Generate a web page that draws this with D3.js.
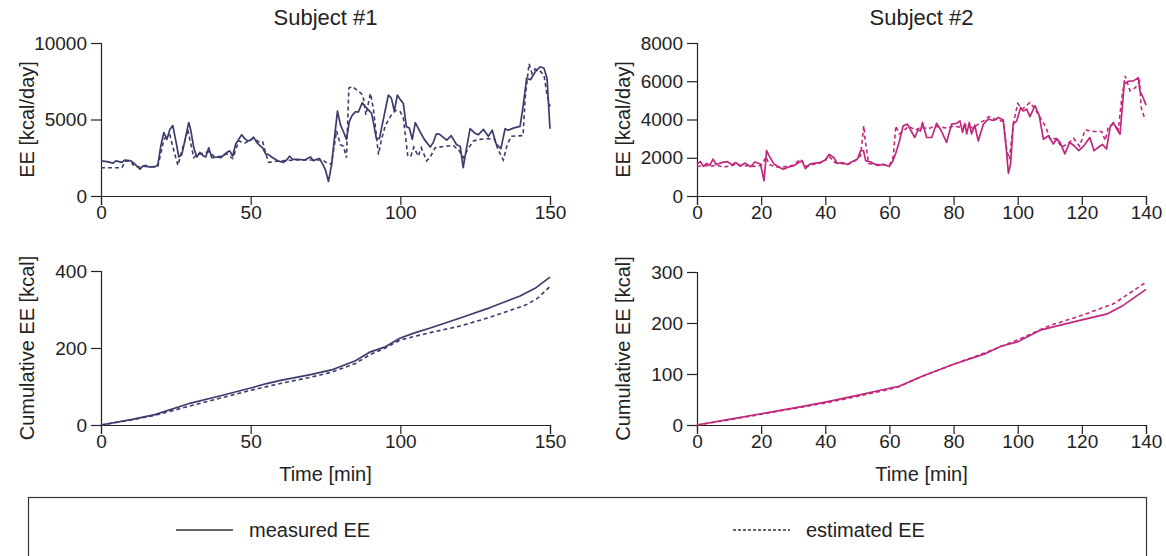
<!DOCTYPE html>
<html>
<head>
<meta charset="utf-8">
<script src="https://cdn.jsdelivr.net/npm/d3@7"></script>
<style>
  html, body { margin: 0; padding: 0; background: #fff; }
  svg { display: block; font-family: "Liberation Sans", Arial, Helvetica, sans-serif; }
</style>
</head>
<body>
<svg id="chart" width="1166" height="556"></svg>
<script>
// Energy expenditure, minute by minute: [time in min, kcal/day]
const s1Measured = [[0,2300],[2,2250],[4,2150],[5,2300],[7,2200],[8,2350],[10,2300],[11,2150],[13,1750],[14,1950],[15,2000],[16,1900],[18,1900],[19,2050],[20,3300],[21,4150],[22,3700],[23,4350],[24,4600],[25,3600],[26,2550],[27,2700],[28,3600],[29.3,4800],[30,4300],[31,3150],[32,2550],[33,2850],[34,2650],[35,2550],[36,3150],[37,2500],[39,2550],[40,2500],[42,2850],[43,2950],[44,2600],[45,3400],[46,3700],[47,4000],[48,3750],[49,3600],[50,3650],[51,3850],[52,3500],[53,3300],[54,3150],[55,2750],[56,2700],[57,2550],[59,2300],[60,2250],[61,2200],[62,2350],[63,2600],[64,2400],[66,2400],[68,2350],[69,2450],[70,2550],[71,2300],[72,2400],[73,2450],[74,2100],[75,1700],[76,950],[77,2000],[78,3800],[79,5550],[80,4650],[81,4200],[82,3700],[83,4900],[84,5300],[85,5500],[86,5500],[87.3,6100],[88,5900],[89,5700],[90.4,5400],[91,4800],[92,3750],[93,3750],[94,4700],[96,6600],[97,6400],[98,5550],[99,6600],[100,6300],[101,6050],[102,4550],[103,4450],[104,3700],[105,4800],[107,4050],[108,3700],[109.4,3350],[110,3200],[111,3500],[112,4050],[113,4050],[115.5,3650],[117,3950],[118.8,3350],[120,3250],[121,1850],[122,3000],[123.3,4400],[125,4100],[126,4000],[127.8,4350],[129.4,3900],[130.7,4300],[132,3400],[133.6,3100],[135,4400],[136,4300],[138,4450],[140,4550],[141,5850],[142.2,7700],[143.5,7600],[145,8100],[146.7,8450],[148,8350],[149,7700],[150,4400]];
const s1Estimated = [[0,1850],[3,1850],[7,1850],[8,2250],[9,2300],[10,2250],[11,1950],[13,1900],[14,1950],[16,1900],[19,1950],[20,2800],[21,3700],[22,3900],[23,4000],[24,3200],[25,2500],[25.7,2000],[27,2950],[28,3600],[29,4350],[30,3400],[31,2500],[32,2700],[34,2800],[36,2900],[38,2550],[40,2600],[42,2750],[44,2450],[45,3000],[46,3600],[48,3450],[51,3800],[53,3500],[54,3550],[55,2800],[56,2200],[60,2300],[65,2350],[70,2350],[74,2350],[76,2100],[77,2100],[78.7,4250],[80,3350],[81,3250],[82,2500],[82.8,7050],[84,7150],[86,6850],[87.5,6600],[88.5,5300],[90,6700],[91,5700],[92.7,2700],[93.7,3700],[95,4600],[97,5300],[98.5,5600],[100,5500],[101,5100],[102.5,2600],[103.5,2600],[104.5,3200],[106,2600],[107,3150],[108.8,2300],[110,2550],[111.6,3150],[115,3250],[117.7,3300],[119.5,3000],[121,2500],[122.5,3050],[124.4,3600],[126.5,3700],[129.4,3750],[131.5,3700],[132.5,3100],[134.4,2350],[135.7,3350],[137,3900],[141,3950],[141.7,6400],[143,8650],[144,8000],[145,8300],[146.5,8200],[148,7900],[149,6600],[150,5850]];
const s2Measured = [[0,1670],[1,1800],[2,1550],[3,1700],[4,1600],[5,1930],[6,1650],[8,1760],[9.5,1800],[11,1620],[12,1750],[13.6,1580],[15,1720],[16.7,1530],[18,1780],[19.8,1670],[20.9,800],[21.7,2370],[22.5,2100],[24,1670],[25.5,1520],[26.9,1400],[28.6,1520],[30.2,1580],[31.7,1750],[32.8,1830],[33.8,1430],[35.3,1680],[37,1720],[38.5,1760],[40,1880],[41.2,2180],[42.7,2000],[43.7,1700],[45.3,1750],[46.9,1650],[48.4,1800],[50,1920],[51,2360],[51.9,2380],[52.6,1850],[54.2,1780],[56.2,1600],[58.3,1650],[59.9,1540],[61,1800],[62,2250],[63,2800],[64.3,3670],[65.6,3760],[66.6,3450],[67.9,3060],[68.9,3450],[69.7,3400],[70.3,3850],[71.6,3060],[73.2,3060],[74.7,3800],[76.2,3400],[77.8,2800],[79.4,3760],[80.9,3800],[82,3930],[82.8,3330],[83.5,3800],[84.1,3250],[84.9,3850],[85.6,3250],[86.6,3700],[87.7,2880],[89.3,3760],[90.8,4020],[92.4,3950],[94,4110],[95.5,3970],[96.4,2540],[97.1,1180],[97.8,1700],[98.6,3760],[99.7,3930],[100.9,4630],[101.7,4450],[102.8,4540],[103.8,4150],[105.4,4720],[106.7,4200],[108,2970],[109.6,3150],[111.1,2720],[112.2,3000],[113.2,2800],[114.7,2200],[116.2,2800],[117.6,2630],[119,2370],[120.5,2600],[122.5,3060],[123.8,2370],[125.6,2600],[126.4,2700],[127.7,2460],[128.8,3590],[129.8,3850],[130.9,3500],[131.9,3230],[133.2,5850],[134.5,6000],[136.1,6020],[137.6,6190],[138.1,5500],[139.1,5150],[140,4750]];
const s2Estimated = [[0,1530],[2,1600],[4,1550],[6,1620],[8,1520],[10,1550],[12,1650],[14,1550],[16,1600],[18,1550],[20,1600],[20.6,1750],[21.5,2050],[22.5,1650],[24,1550],[26,1500],[28,1550],[30,1600],[32.3,1930],[34,1550],[36,1650],[38,1700],[40,1850],[41,2100],[43,1750],[45,1700],[47,1650],[49,1800],[51,2100],[52,3670],[52.5,2850],[53,2300],[53.5,1700],[56,1650],[58,1650],[60,1600],[61.2,2050],[62,3670],[63,3250],[64,3350],[66,3650],[68,3450],[70,3600],[72,3500],[74,3650],[76,3600],[78,3550],[80,3650],[82,3600],[84,3700],[86,3550],[88,3800],[89.5,3950],[91,4150],[93,4000],[95.5,3900],[96.6,2370],[97.4,1920],[98.6,3760],[100,4840],[101.5,4550],[103.8,4890],[105.4,4550],[107,4100],[108.8,3600],[110,3000],[112,3000],[113.7,2550],[115.8,2750],[117.4,3020],[119.3,2600],[121,3450],[123.6,3380],[126.2,3370],[127.3,2900],[128.3,3650],[129.8,3750],[131.4,3500],[132.4,5060],[133.5,6280],[135,5500],[136.6,5650],[138,6000],[138.5,4630],[139.3,4200],[140,4000]];

// Cumulative energy expenditure: [time in min, kcal]
const s1CumMeasured = [[0,0],[10,14],[18,27],[30,57],[40,76],[50,96],[55,107],[60,116],[70,131],[77,143],[85,167],[90,190],[95,203],[100,226],[105,240],[110,252],[120,278],[130,305],[140,335],[145,355],[150,384]];
const s1CumEstimated = [[0,0],[10,13],[18,25],[30,50],[40,70],[50,90],[60,108],[70,124],[77,137],[85,160],[90,183],[95,200],[100,221],[110,240],[120,257],[130,280],[142,312],[146,330],[150,360]];
const s2CumMeasured = [[0,0],[10,11],[20,22],[30,33],[40,45],[50,58],[60,72],[63,76],[70,95],[80,119],[90,140],[95,155],[100,163],[107,186],[120,206],[128,218],[133,235],[140,266]];
const s2CumEstimated = [[0,0],[10,10],[20,21],[30,32],[40,43],[50,56],[60,70],[63,75],[70,95],[80,119],[90,142],[100,167],[110,195],[120,215],[130,238],[140,280]];

// Axis ticks
const s1TimeTicks = [0, 50, 100, 150];
const s2TimeTicks = [0, 20, 40, 60, 80, 100, 120, 140];
const s1EETicks = [0, 5000, 10000];
const s2EETicks = [0, 2000, 4000, 6000, 8000];
const s1CumTicks = [0, 200, 400];
const s2CumTicks = [0, 100, 200, 300];

const titles = ["Subject #1", "Subject #2"];
const legendLabels = ["measured EE", "estimated EE"];
const colors = ["#3c3c6c", "#c0287c"];

const svg = d3.select("#chart");
const FONT_TICK = 19, FONT_LAB = 20;

const panels = [
  { x0: 101, x1: 550, y0: 196, y1: 43, xMax: 150, yMax: 10000, xt: s1TimeTicks, yt: s1EETicks,
    m: s1Measured, e: s1Estimated, col: colors[0], ylab: "EE [kcal/day]", xlab: null },
  { x0: 697, x1: 1146, y0: 196, y1: 43, xMax: 140, yMax: 8000, xt: s2TimeTicks, yt: s2EETicks,
    m: s2Measured, e: s2Estimated, col: colors[1], ylab: "EE [kcal/day]", xlab: null },
  { x0: 101, x1: 550, y0: 425, y1: 271, xMax: 150, yMax: 400, xt: s1TimeTicks, yt: s1CumTicks,
    m: s1CumMeasured, e: s1CumEstimated, col: colors[0], ylab: "Cumulative EE [kcal]", xlab: "Time [min]" },
  { x0: 697, x1: 1146, y0: 425, y1: 272, xMax: 140, yMax: 300, xt: s2TimeTicks, yt: s2CumTicks,
    m: s2CumMeasured, e: s2CumEstimated, col: colors[1], ylab: "Cumulative EE [kcal]", xlab: "Time [min]" }
];

panels.forEach(p => {
  const x = d3.scaleLinear().domain([0, p.xMax]).range([p.x0, p.x1]);
  const y = d3.scaleLinear().domain([0, p.yMax]).range([p.y0, p.y1]);
  const g = svg.append("g");

  const xAxis = g.append("g").attr("transform", `translate(0,${p.y0})`)
    .call(d3.axisBottom(x).tickValues(p.xt).tickFormat(d3.format("d")).tickSizeOuter(0).tickSize(9).tickPadding(1));
  const yAxis = g.append("g").attr("transform", `translate(${p.x0},0)`)
    .call(d3.axisLeft(y).tickValues(p.yt).tickFormat(d3.format("d")).tickSizeOuter(0).tickSize(10).tickPadding(4));
  [xAxis, yAxis].forEach(a => {
    a.selectAll("path, line").attr("stroke", "#222").attr("stroke-width", 1.2);
    a.selectAll("text").attr("fill", "#222").style("font-size", FONT_TICK + "px")
      .style("font-family", '"Liberation Sans", Arial, sans-serif');
  });

  const line = d3.line().x(d => x(d[0])).y(d => y(d[1]));
  g.append("path").datum(p.e).attr("d", line).attr("fill", "none")
    .attr("stroke", p.col).attr("stroke-width", 1.6).attr("stroke-dasharray", "4,3");
  g.append("path").datum(p.m).attr("d", line).attr("fill", "none")
    .attr("stroke", p.col).attr("stroke-width", 1.7).attr("stroke-linejoin", "round");

  g.append("text")
    .attr("transform", `translate(${p.x0 - 74},${(p.y0 + p.y1) / 2}) rotate(-90)`)
    .attr("text-anchor", "middle").attr("dy", "0.35em")
    .style("font-size", FONT_LAB + "px").attr("fill", "#222").text(p.ylab);

  if (p.xlab) {
    g.append("text").attr("x", (p.x0 + p.x1) / 2).attr("y", p.y0 + 49)
      .attr("text-anchor", "middle").attr("dy", "0.35em")
      .style("font-size", FONT_LAB + "px").attr("fill", "#222").text(p.xlab);
  }
});

// Titles
titles.forEach((t, i) => {
  const p = panels[i];
  svg.append("text").attr("x", (p.x0 + p.x1) / 2).attr("y", 17).attr("dy", "0.35em")
    .attr("text-anchor", "middle").style("font-size", "22px").attr("fill", "#222").text(t);
});

// Legend
const lg = svg.append("g");
lg.append("rect").attr("x", 28.5).attr("y", 497.5).attr("width", 1118).attr("height", 80)
  .attr("fill", "none").attr("stroke", "#333").attr("stroke-width", 1.2);
const legendItems = [
  { x: 176, label: legendLabels[0], dash: null },
  { x: 733, label: legendLabels[1], dash: "3,2" }
];
legendItems.forEach(it => {
  lg.append("line").attr("x1", it.x).attr("x2", it.x + 57).attr("y1", 530).attr("y2", 530)
    .attr("stroke", "#333").attr("stroke-width", 1.4).attr("stroke-dasharray", it.dash);
  lg.append("text").attr("x", it.x + 73).attr("y", 530).attr("dy", "0.35em")
    .style("font-size", FONT_LAB + "px").attr("fill", "#222").text(it.label);
});
</script>
</body>
</html>
